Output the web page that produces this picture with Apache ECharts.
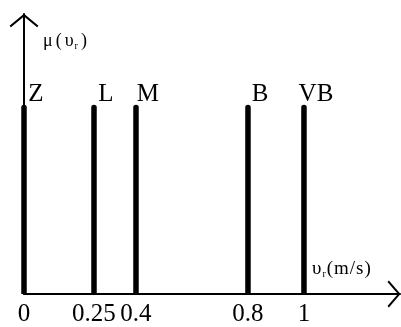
<!DOCTYPE html>
<html>
<head>
<meta charset="utf-8">
<script src="https://cdn.jsdelivr.net/npm/echarts@6/dist/echarts.min.js"></script>
<style>
  html, body { margin: 0; padding: 0; background: #fff; }
  #chart { width: 401px; height: 327px; }
</style>
</head>
<body>
<div id="chart"></div>
<script>
// Fuzzy sets of the relative velocity: singleton positions and their labels
const setNames = ['Z', 'L', 'M', 'B', 'VB'];
const velocities = [0, 0.25, 0.4, 0.8, 1];
const memberships = [1, 1, 1, 1, 1];
const tickValues = [0, 0.25, 0.4, 0.8, 1];

const SERIF = '"Liberation Serif", "DejaVu Serif", serif';
// open chevron arrow heads (drawn pointing up, the axis rotates them)
const chevronY = 'path://M14.5 0 L29 12 L27.6 13.4 L14.5 2.6 L1.4 13.4 L0 12 Z';
const chevronX = 'path://M13.5 0 L27 11.6 L25.6 13 L13.5 2.6 L1.4 13 L0 11.6 Z';

// spaced serif glyph styles for the axis names
const nameRich = (size, subSize, gap, subDrop) => ({
  a: { fontFamily: SERIF, fontSize: size, color: '#000', padding: [0, 0, 0, gap] },
  s: { fontFamily: SERIF, fontSize: subSize, color: '#000', padding: [subDrop, 0, 0, 1] }
});

const chart = echarts.init(document.getElementById('chart'), null, { renderer: 'canvas' });

chart.setOption({
  backgroundColor: '#fff',
  animation: false,
  grid: { left: 24, right: 1, top: 14, bottom: 26 },
  xAxis: {
    type: 'value',
    min: 0,
    max: 1.343,
    splitLine: { show: false },
    axisTick: { show: false },
    axisLine: {
      show: true,
      lineStyle: { color: '#000', width: 2 },
      symbol: ['none', chevronX],
      symbolSize: [27, 13],
      symbolOffset: [0, -6]
    },
    axisLabel: {
      customValues: tickValues,
      color: '#000',
      fontFamily: SERIF,
      fontSize: 25,
      margin: 8,
      formatter: v => String(v)
    },
    name: '{a|υ}{s|r}{a|(}{a|m}{a|/}{a|s}{a|)}',
    nameLocation: 'end',
    nameGap: -89,
    nameTextStyle: {
      align: 'left',
      verticalAlign: 'middle',
      padding: [0, 0, 50, 0],
      rich: nameRich(19, 10, 1, 10)
    }
  },
  yAxis: {
    type: 'value',
    min: 0,
    max: 1.479,
    splitLine: { show: false },
    axisTick: { show: false },
    axisLabel: { show: false },
    axisLine: {
      show: true,
      lineStyle: { color: '#000', width: 2 },
      symbol: ['none', chevronY],
      symbolSize: [29, 13.4],
      symbolOffset: [0, -6.5]
    },
    name: '{a|μ}{a|(}{a|υ}{s|r}{a|)}',
    nameLocation: 'end',
    nameGap: -27,
    nameTextStyle: {
      align: 'left',
      verticalAlign: 'middle',
      padding: [0, 0, 0, 16],
      rich: nameRich(18, 10, 3, 10)
    }
  },
  series: [{
    type: 'bar',
    clip: false,
    barWidth: 5.5,
    data: velocities.map((v, i) => [v, memberships[i]]),
    itemStyle: { color: '#000', borderRadius: [3, 3, 0, 0] },
    label: {
      show: true,
      position: 'top',
      distance: -2,
      offset: [12, 0],
      color: '#000',
      fontFamily: SERIF,
      fontSize: 25,
      formatter: p => setNames[p.dataIndex]
    }
  }]
});
</script>
</body>
</html>
